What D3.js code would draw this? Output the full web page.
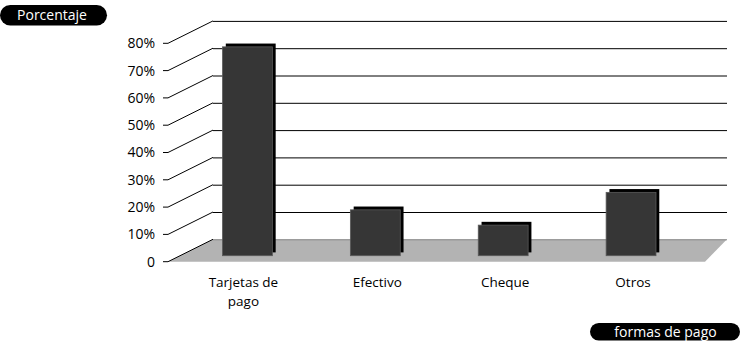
<!DOCTYPE html>
<html><head><meta charset="utf-8">
<script src="https://cdn.jsdelivr.net/npm/d3@7"></script>
<style>
html,body{margin:0;padding:0;background:#fff;}
svg{display:block;font-family:"Open Sans",sans-serif;}
</style></head>
<body><svg id="chart" width="740" height="352"></svg>
<script>
const categories = [["Tarjetas de","pago"],["Efectivo"],["Cheque"],["Otros"]];
const values = [76.5, 16.8, 11.2, 23.2];
const tickValues = [0,10,20,30,40,50,60,70,80];
const tickLabels = ["0","10%","20%","30%","40%","50%","60%","70%","80%"];
const yTitle = "Porcentaje";
const xTitle = "formas de pago";

const svg = d3.select("#chart");
const y = d3.scaleLinear().domain([0,80]).range([261.7, 43.3]);
const depthDy = -22.4;
const leftFront = 168, leftBack = 213, rightFront = 705, rightBack = 727;
const barDy = -6;
const x = d3.scaleBand().domain(d3.range(categories.length)).range([183.5, 695]).paddingInner(0.61).paddingOuter(0.305);

// floor
const y0 = y(0);
svg.append("path")
  .attr("d", `M${leftFront},${y0} L${leftBack},${y0+depthDy} L${rightBack},${y0+depthDy} L${rightFront},${y0} Z`)
  .attr("fill", "#b3b3b3");

// back wall gridlines
svg.selectAll("line.grid").data(tickValues.filter(d => d > 0)).join("line")
  .attr("class","grid")
  .attr("x1", leftBack).attr("x2", rightBack)
  .attr("y1", d => y(d) + depthDy + 0.5).attr("y2", d => y(d) + depthDy + 0.5)
  .attr("stroke", "#000").attr("stroke-width", 1);
svg.append("line")
  .attr("x1", leftBack).attr("x2", rightBack)
  .attr("y1", y0 + depthDy + 0.5).attr("y2", y0 + depthDy + 0.5)
  .attr("stroke", "#8a8a8a").attr("stroke-width", 1);

// left tick diagonals
svg.selectAll("path.tick").data(tickValues).join("path")
  .attr("class","tick")
  .attr("d", d => `M${leftFront-5},${y(d)} L${leftFront},${y(d)} L${leftBack},${y(d)+depthDy}`)
  .attr("fill","none").attr("stroke","#000").attr("stroke-width",1);

// tick labels
svg.selectAll("text.tl").data(tickValues).join("text")
  .attr("class","tl")
  .attr("x", 155).attr("y", d => y(d)).attr("dy","0.35em")
  .attr("text-anchor","end").attr("font-size",14).attr("fill","#000")
  .text((d,i) => tickLabels[i]);

// bars
const bars = svg.selectAll("g.bar").data(values).join("g").attr("class","bar");
bars.append("rect")
  .attr("x", (d,i) => x(i) + 3.3).attr("y", d => y(d) + barDy - 3.3)
  .attr("width", x.bandwidth()).attr("height", d => y(0) - y(d))
  .attr("fill", "#000");
bars.append("rect")
  .attr("x", (d,i) => x(i)).attr("y", d => y(d) + barDy)
  .attr("width", x.bandwidth()).attr("height", d => y(0) - y(d))
  .attr("fill", "#363636").attr("stroke","#5a5a5a").attr("stroke-width",0.8);

// category labels (one text per line)
categories.forEach((lines, i) => {
  const cx = x(i) + x.bandwidth()/2 + (i === 0 ? -4 : 2);
  lines.forEach((line, j) => {
    svg.append("text").attr("class","cat")
      .attr("x", cx).attr("y", 287 + j * 18.5)
      .attr("text-anchor","middle").attr("font-size",13.5).attr("fill","#000")
      .text(line);
  });
});

// title pills
function pill(x0, y0, w, h, label, cx) {
  svg.append("rect").attr("x", x0).attr("y", y0).attr("width", w).attr("height", h)
    .attr("rx", h/2).attr("ry", h/2).attr("fill", "#000");
  svg.append("text").attr("x", cx).attr("y", y0 + h/2).attr("dy","0.35em")
    .attr("text-anchor","middle").attr("font-size",14).attr("fill","#fff").text(label);
}
pill(0, 5, 107, 20.5, yTitle, 52);
pill(590, 323, 150, 17.5, xTitle, 665.5);
</script>
</body></html>
